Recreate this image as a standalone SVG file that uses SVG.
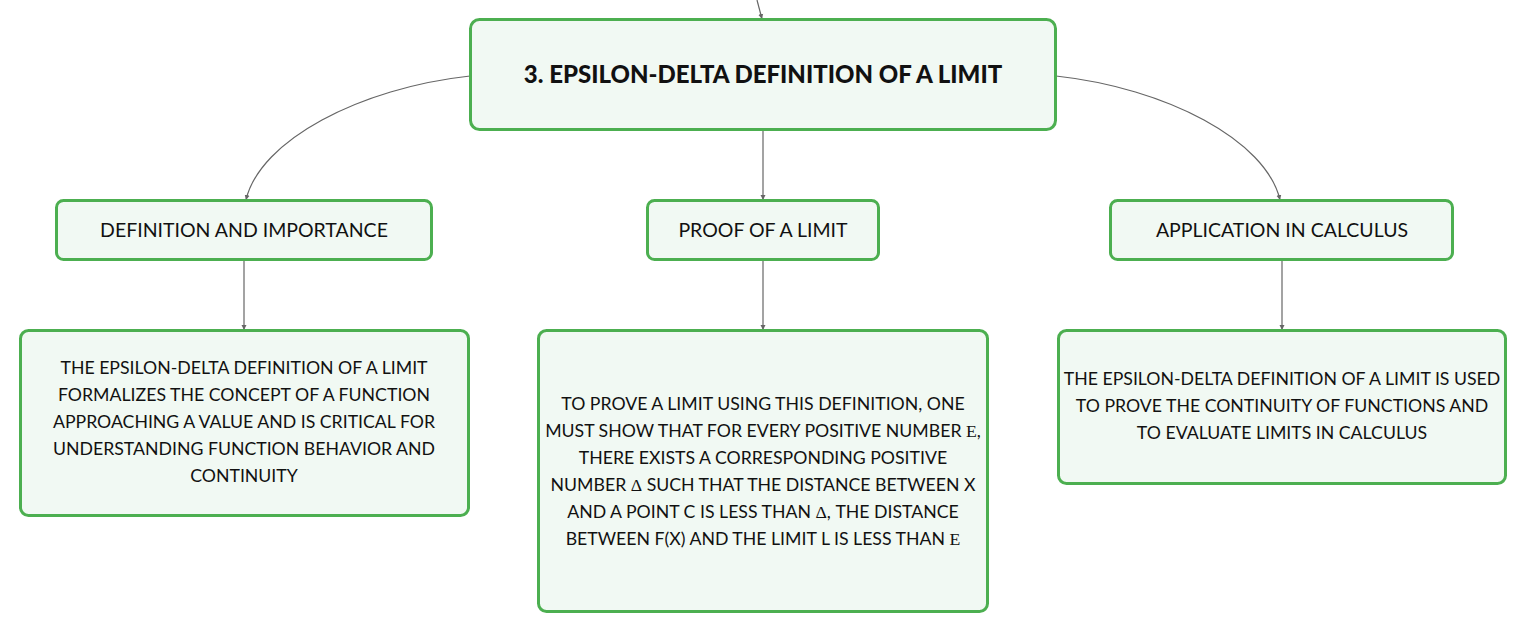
<svg xmlns="http://www.w3.org/2000/svg" width="1527" height="634" viewBox="0 0 1527 634">
<defs>
<marker id="arr" markerWidth="6" markerHeight="6" refX="5" refY="3" orient="auto" markerUnits="userSpaceOnUse">
<path d="M0,0.5 L5,3 L0,5.5 z" fill="#666"/>
</marker>
<style>
.box{fill:#f1f9f3;stroke:#4caf50;stroke-width:3}
.t{font-family:Lato,"Noto Sans",sans-serif;font-size:17.7px;fill:#111;text-anchor:middle}
.l{font-family:Lato,"Noto Sans",sans-serif;font-size:19.5px;fill:#111;text-anchor:middle}
.h{font-family:Lato,"Noto Sans",sans-serif;font-size:24px;font-weight:900;fill:#111;text-anchor:middle}
.g{font-family:"Liberation Serif",serif}
.c{fill:none;stroke:#666;stroke-width:1.2}
</style>
</defs>
<rect width="1527" height="634" fill="#fff"/>
<g id="connectors">
<path class="c" d="M757,0 L762,19" marker-end="url(#arr)"/>
<path class="c" d="M470,76 C360,88 260,140 246,200" marker-end="url(#arr)"/>
<path class="c" d="M763,130 L763,200" marker-end="url(#arr)"/>
<path class="c" d="M1056,76 C1166,88 1266,140 1280,200" marker-end="url(#arr)"/>
<path class="c" d="M244,260 L244,330" marker-end="url(#arr)"/>
<path class="c" d="M763,260 L763,330" marker-end="url(#arr)"/>
<path class="c" d="M1282,260 L1282,330" marker-end="url(#arr)"/>
</g>
<g id="root">
<rect class="box" x="470.5" y="19.5" width="585" height="110" rx="9"/>
<text class="h" x="763" y="83">3. EPSILON-DELTA DEFINITION OF A LIMIT</text>
</g>
<g id="def">
<rect class="box" x="56.5" y="200.5" width="375" height="59" rx="7"/>
<text class="l" x="244" y="237">DEFINITION AND IMPORTANCE</text>
</g>
<g id="proof">
<rect class="box" x="647.5" y="200.5" width="231" height="59" rx="7"/>
<text class="l" x="763" y="237">PROOF OF A LIMIT</text>
</g>
<g id="app">
<rect class="box" x="1110.5" y="200.5" width="342" height="59" rx="7"/>
<text class="l" x="1282" y="237">APPLICATION IN CALCULUS</text>
</g>
<g id="def-detail">
<rect class="box" x="20.5" y="330.5" width="448" height="185" rx="8"/>
<text class="t" x="244" y="374">THE EPSILON-DELTA DEFINITION OF A LIMIT</text>
<text class="t" x="244" y="401">FORMALIZES THE CONCEPT OF A FUNCTION</text>
<text class="t" x="244" y="428">APPROACHING A VALUE AND IS CRITICAL FOR</text>
<text class="t" x="244" y="455">UNDERSTANDING FUNCTION BEHAVIOR AND</text>
<text class="t" x="244" y="482">CONTINUITY</text>
</g>
<g id="proof-detail">
<rect class="box" x="538.5" y="330.5" width="449" height="281" rx="8"/>
<text class="t" x="763" y="410">TO PROVE A LIMIT USING THIS DEFINITION, ONE</text>
<text class="t" x="763" y="437">MUST SHOW THAT FOR EVERY POSITIVE NUMBER <tspan class="g">Ε</tspan>,</text>
<text class="t" x="763" y="464">THERE EXISTS A CORRESPONDING POSITIVE</text>
<text class="t" x="763" y="491">NUMBER <tspan class="g">Δ</tspan> SUCH THAT THE DISTANCE BETWEEN X</text>
<text class="t" x="763" y="518">AND A POINT C IS LESS THAN <tspan class="g">Δ</tspan>, THE DISTANCE</text>
<text class="t" x="763" y="545">BETWEEN F(X) AND THE LIMIT L IS LESS THAN <tspan class="g">Ε</tspan></text>
</g>
<g id="app-detail">
<rect class="box" x="1058.5" y="330.5" width="447" height="153" rx="8"/>
<text class="t" x="1282" y="385">THE EPSILON-DELTA DEFINITION OF A LIMIT IS USED</text>
<text class="t" x="1282" y="412">TO PROVE THE CONTINUITY OF FUNCTIONS AND</text>
<text class="t" x="1282" y="439">TO EVALUATE LIMITS IN CALCULUS</text>
</g>
</svg>
